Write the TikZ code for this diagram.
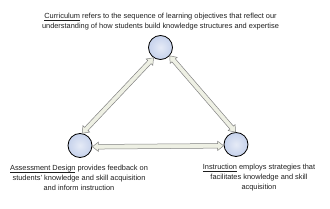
\documentclass[tikz,border=0pt]{standalone}
\usepackage{fontspec}
\setmainfont{Liberation Sans}
\usetikzlibrary{calc}
\definecolor{circfill}{RGB}{198,210,236}
\definecolor{arrfill}{RGB}{238,240,228}
\definecolor{arrline}{RGB}{130,130,130}
\definecolor{txt}{RGB}{30,30,30}
\newcommand\undl[1]{\setbox0\hbox{#1}\rlap{\raisebox{-1.3pt}{\rule{\wd0}{0.4pt}}}\box0\relax}
\tikzset{
  station/.style={circle, draw=black, line width=0.8pt, inner sep=0pt, minimum size=24pt,
    inner color=circfill!45, outer color=circfill},
  blockarrow/.style={draw=arrline, line width=0.5pt, fill=arrfill, line join=miter},
  caption/.style={text=txt, font=\fontsize{7.4}{10}\selectfont, align=center, inner sep=0pt}
}
\newcommand\blockarrow[2]{%
  \coordinate (bs) at (#1);
  \coordinate (be) at (#2);
  \coordinate (bs1) at ($(bs)!6pt!(be)$);
  \coordinate (be1) at ($(be)!6pt!(bs)$);
  \draw[blockarrow] (bs) -- ($(bs1)!4.6pt!90:(be)$) -- ($(bs1)!2.3pt!90:(be)$)
    -- ($(be1)!2.3pt!-90:(bs)$) -- ($(be1)!4.6pt!-90:(bs)$) -- (be)
    -- ($(be1)!4.6pt!90:(bs)$) -- ($(be1)!2.3pt!90:(bs)$)
    -- ($(bs1)!2.3pt!-90:(be)$) -- ($(bs1)!4.6pt!-90:(be)$) -- cycle;
}
\begin{document}
\begin{tikzpicture}[x=1pt,y=1pt]
\useasboundingbox (0,0) rectangle (330,209);
\node[station] (cur) at (160.5,161.5) {};
\node[station] (ass) at (80,63.5) {};
\node[station] (ins) at (236,64.5) {};
\blockarrow{ass.80}{cur.236}
\blockarrow{cur.318}{ins.92}
\blockarrow{ass.-6}{ins.186}
\node[caption] (tcur) at (160.5,187) {\undl{Curriculum} refers to the sequence of learning objectives that reflect our\\understanding of how students build knowledge structures and expertise};
\node[caption] (tass) at (79,31) {\undl{Assessment Design} provides feedback on\\students' knowledge and skill acquisition\\and inform instruction};
\node[caption] (tins) at (259,31) {\undl{Instruction} employs strategies that\\facilitates knowledge and skill\\acquisition};
\end{tikzpicture}
\end{document}
